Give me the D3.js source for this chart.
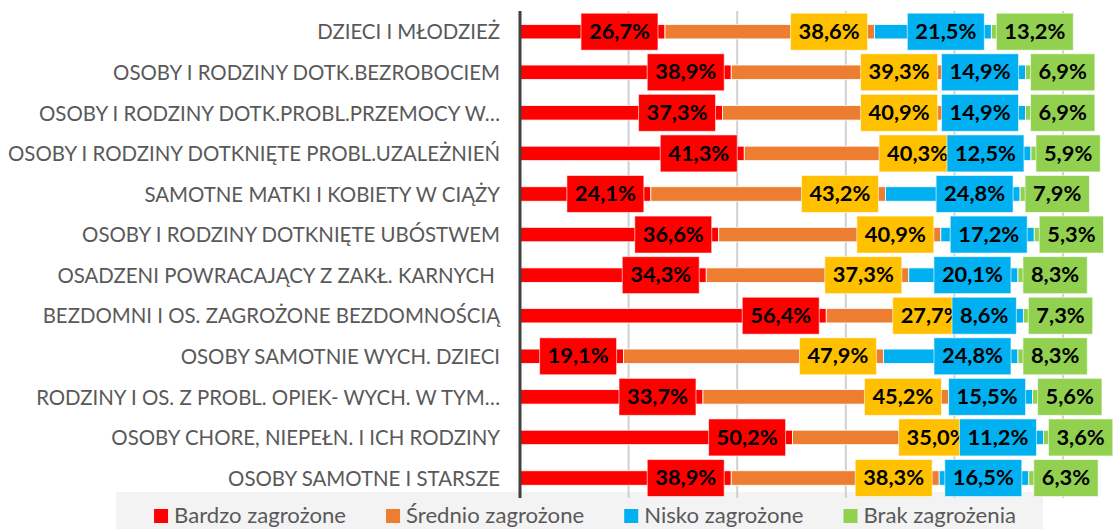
<!DOCTYPE html>
<html>
<head>
<meta charset="utf-8">
<script src="https://cdn.jsdelivr.net/npm/d3@7"></script>
<style>
body { margin: 0; background: #fff; }
text { font-family: Lato, "Open Sans", sans-serif; }
</style>
</head>
<body>
<svg width="1113" height="529"></svg>
<script>
const categories = [
    "DZIECI I MŁODZIEŻ",
    "OSOBY I RODZINY DOTK.BEZROBOCIEM",
    "OSOBY I RODZINY DOTK.PROBL.PRZEMOCY W…",
    "OSOBY I RODZINY DOTKNIĘTE PROBL.UZALEŻNIEŃ",
    "SAMOTNE MATKI I KOBIETY W CIĄŻY",
    "OSOBY I RODZINY DOTKNIĘTE UBÓSTWEM",
    "OSADZENI POWRACAJĄCY Z ZAKŁ. KARNYCH ",
    "BEZDOMNI I OS. ZAGROŻONE BEZDOMNOŚCIĄ",
    "OSOBY SAMOTNIE WYCH. DZIECI",
    "RODZINY I OS. Z PROBL. OPIEK- WYCH. W TYM…",
    "OSOBY CHORE, NIEPEŁN. I ICH RODZINY",
    "OSOBY SAMOTNE I STARSZE"
];
const seriesNames = ["Bardzo zagrożone", "Średnio zagrożone", "Nisko zagrożone", "Brak zagrożenia"];
const bardzo  = [26.7, 38.9, 37.3, 41.3, 24.1, 36.6, 34.3, 56.4, 19.1, 33.7, 50.2, 38.9];
const srednio = [38.6, 39.3, 40.9, 40.3, 43.2, 40.9, 37.3, 27.7, 47.9, 45.2, 35.0, 38.3];
const nisko   = [21.5, 14.9, 14.9, 12.5, 24.8, 17.2, 20.1,  8.6, 24.8, 15.5, 11.2, 16.5];
const brak    = [13.2,  6.9,  6.9,  5.9,  7.9,  5.3,  8.3,  7.3,  8.3,  5.6,  3.6,  6.3];
const ticks = [0, 0.2, 0.4, 0.6, 0.8, 1];

const barColors = ["#ff0000", "#ed7d31", "#00b0f0", "#92d050"];
const boxColors = ["#ff0000", "#ffc000", "#00b0f0", "#92d050"];

var svg = d3.select("svg");

var rows = categories.map(function (c, i) {
    return { cat: c, vals: [bardzo[i], srednio[i], nisko[i], brak[i]] };
});

var x = d3.scaleLinear().domain([0, 1]).range([520, 1063]);
var y = d3.scaleBand().domain(categories).range([11.4, 498.3])
    .paddingInner(0.643).paddingOuter(0.3215);

var stack = d3.stack()
    .keys([0, 1, 2, 3])
    .value(function (d, k) { return d.vals[k]; })
    .offset(d3.stackOffsetExpand);
var series = stack(rows);

// measure helper
function measure(str, size, weight) {
    var t = svg.append("text").attr("font-size", size).attr("font-weight", weight)
        .style("white-space", "pre").text(str);
    var w = t.node().getComputedTextLength();
    t.remove();
    return w;
}

// original uses Calibri (narrow): keep the cap height, squeeze the width
var catSize = 21.5;
var catSqueeze = 492 / measure("OSOBY I RODZINY DOTKNIĘTE PROBL.UZALEŻNIEŃ", catSize, 400);
var legSqueeze = 172 / measure("Bardzo zagrożone", catSize, 400);
var lblSize = 20;
var lblSqueeze = 61 / measure("26,7%", lblSize, 700);

// legend background
svg.append("rect")
    .attr("x", 116).attr("y", 492)
    .attr("width", 927).attr("height", 40)
    .attr("fill", "#f3f3f3");

// gridlines
svg.append("g").selectAll("line")
    .data(ticks.slice(1))
    .enter().append("line")
    .attr("x1", function (d) { return x(d); })
    .attr("x2", function (d) { return x(d); })
    .attr("y1", 11).attr("y2", 498)
    .attr("stroke", "#d0d0d0").attr("stroke-width", 2);

// bars
svg.append("g").selectAll("g")
    .data(series)
    .enter().append("g")
    .attr("fill", function (s) { return barColors[s.key]; })
    .selectAll("rect")
    .data(function (s) { return s; })
    .enter().append("rect")
    .attr("x", function (d) { return x(d[0]); })
    .attr("y", function (d) { return y(d.data.cat); })
    .attr("width", function (d) { return x(d[1]) - x(d[0]); })
    .attr("height", y.bandwidth())
    .attr("stroke", "#fff").attr("stroke-width", 0.8);

// axis line
svg.append("line")
    .attr("x1", x(0)).attr("x2", x(0))
    .attr("y1", 11).attr("y2", 498)
    .attr("stroke", "#404040").attr("stroke-width", 3);

// category labels
svg.append("g").selectAll("text")
    .data(categories)
    .enter().append("text")
    .attr("x", 500)
    .attr("y", function (d) { return y(d) + y.bandwidth() / 2; })
    .attr("dy", "0.36em")
    .attr("text-anchor", "end")
    .attr("font-size", catSize)
    .attr("fill", "#595959")
    .style("white-space", "pre")
    .attr("textLength", function (d) { return measure(d, catSize, 400) * catSqueeze; })
    .attr("lengthAdjust", "spacingAndGlyphs")
    .text(function (d) { return d; });

// data labels with filled boxes
function fmt(v) { return v.toFixed(1).replace(".", ",") + "%"; }
var boxH = 37, pad = 8;

series.forEach(function (s) {
    var k = s.key;
    var g = svg.append("g");
    s.forEach(function (d) {
        var v = d.data.vals[k];
        var txt = fmt(v);
        var tw = measure(txt, lblSize, 700) * lblSqueeze;
        var w = tw + 2 * pad;
        var left = k < 3 ? x(d[1]) - 7 - w : x(d[0]) + 5;
        var cy = y(d.data.cat) + y.bandwidth() / 2;
        g.append("rect")
            .attr("x", left).attr("y", cy - boxH / 2)
            .attr("width", w).attr("height", boxH)
            .attr("fill", boxColors[k])
            .attr("stroke", "rgba(255,255,255,0.6)").attr("stroke-width", 1);
        g.append("text")
            .attr("x", left + w / 2).attr("y", cy)
            .attr("dy", "0.36em")
            .attr("text-anchor", "middle")
            .attr("font-size", lblSize).attr("font-weight", 700)
            .attr("textLength", tw).attr("lengthAdjust", "spacingAndGlyphs")
            .attr("fill", "#000")
            .text(txt);
    });
});

// legend
var legItems = seriesNames.map(function (n, i) {
    var tw = measure(n, catSize, 400) * legSqueeze;
    return { name: n, i: i, tw: tw, w: 14 + 6 + tw };
});
var gap = 40;
var total = d3.sum(legItems, function (d) { return d.w; }) + gap * (legItems.length - 1);
var lx = 585 - total / 2;
legItems.forEach(function (d) { d.x = lx; lx += d.w + gap; });

var leg = svg.append("g").selectAll("g")
    .data(legItems)
    .enter().append("g")
    .attr("transform", function (d) { return "translate(" + d.x + ",0)"; });
leg.append("rect")
    .attr("x", 0).attr("y", 509)
    .attr("width", 14).attr("height", 14)
    .attr("fill", function (d) { return barColors[d.i]; });
leg.append("text")
    .attr("x", 20).attr("y", 523)
    .attr("font-size", catSize)
    .attr("fill", "#595959")
    .attr("textLength", function (d) { return d.tw; })
    .attr("lengthAdjust", "spacingAndGlyphs")
    .text(function (d) { return d.name; });
</script>
</body>
</html>
